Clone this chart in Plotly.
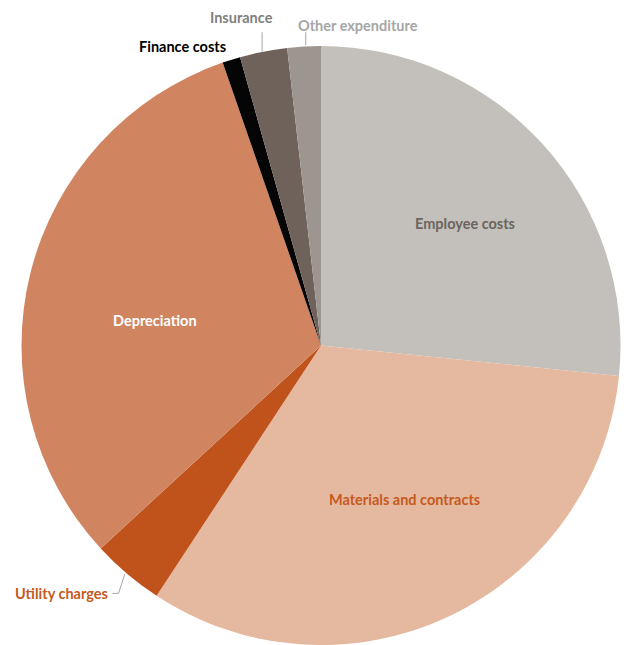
import math
import plotly.graph_objects as go

# Expenditure by category (share of total, %), clockwise from 12 o'clock
categories = ["Employee costs", "Materials and contracts", "Utility charges",
              "Depreciation", "Finance costs", "Insurance", "Other expenditure"]
values = [26.6, 32.6, 3.9, 31.5, 0.97, 2.55, 1.8]

slice_colors = ["#C3BFBA", "#E5B9A0", "#C0531B", "#D08560", "#050505", "#6E625A", "#9D9590"]
label_colors = ["#6B6560", "#C55A1E", "#C55A1E", "#FFFFFF", "#000000", "#7F7F7F", "#A6A6A6"]

W, H = 624, 645
# pie placement in pixels
left_px, right_px, top_px = 19, 623, 46
R = min(right_px - left_px, H - top_px) / 2
cx = (left_px + right_px) / 2
cy = top_px + R

fig = go.Figure(go.Pie(
    labels=categories,
    values=values,
    sort=False,
    direction="clockwise",
    rotation=0,
    marker=dict(colors=slice_colors, line=dict(width=0)),
    textinfo="none",
    hoverinfo="label+percent",
    showlegend=False,
    domain=dict(x=[left_px / W, right_px / W], y=[0, 1 - top_px / H]),
))


def px_to_paper(x, y):
    return x / W, 1 - y / H


def polar(angle_deg, r):
    a = math.radians(angle_deg)
    return cx + r * math.sin(a), cy - r * math.cos(a)


total = sum(values)
mids = []
acc = 0.0
for v in values:
    mids.append((acc + v / 2) / total * 360)
    acc += v

font_family = "Lato, 'Open Sans', sans-serif"
font_size = 14.5
annotations = []
shapes = []

# labels inside the large slices: (angle offset from slice middle, radius fraction)
inside = {0: (1.8, 0.63), 1: (-3.0, 0.585), 3: (-5.4, 0.56)}
for i, (dang, frac) in inside.items():
    x, y = polar(mids[i] + dang, R * frac)
    px, py = px_to_paper(x, y)
    annotations.append(dict(
        x=px, y=py, xref="paper", yref="paper", text="<b>%s</b>" % categories[i],
        showarrow=False, font=dict(family=font_family, size=font_size, color=label_colors[i]),
        xanchor="center", yanchor="middle"))

# labels outside the small slices, with leader lines
outside = {
    2: dict(pts=[(0, 0), (-8, 20), (-14, 20)], text_dx=-17, text_dy=20, anchor="right"),
    4: dict(pts=None, text_dx=-3, text_dy=-13, anchor="right"),
    5: dict(pts=[(0, 0), (0, -22)], text_dx=-22, text_dy=-34, anchor="center"),
    6: dict(pts=[(0, 0), (0, -13)], text_dx=54, text_dy=-21, anchor="center"),
}
for i, spec in outside.items():
    ex, ey = polar(mids[i], R)
    if spec["pts"]:
        path = "M " + " L ".join("%.2f %.2f" % px_to_paper(ex + dx, ey + dy)
                                 for dx, dy in spec["pts"])
        shapes.append(dict(type="path", path=path, xref="paper", yref="paper",
                           line=dict(color="#A6A6A6", width=1)))
    tx, ty = px_to_paper(ex + spec["text_dx"], ey + spec["text_dy"])
    annotations.append(dict(
        x=tx, y=ty, xref="paper", yref="paper", text="<b>%s</b>" % categories[i],
        showarrow=False, font=dict(family=font_family, size=font_size, color=label_colors[i]),
        xanchor=spec["anchor"], yanchor="middle"))

fig.update_layout(
    width=W, height=H,
    margin=dict(l=0, r=0, t=0, b=0),
    paper_bgcolor="white",
    plot_bgcolor="white",
    annotations=annotations,
    shapes=shapes,
)

fig.write_html("out.html")
